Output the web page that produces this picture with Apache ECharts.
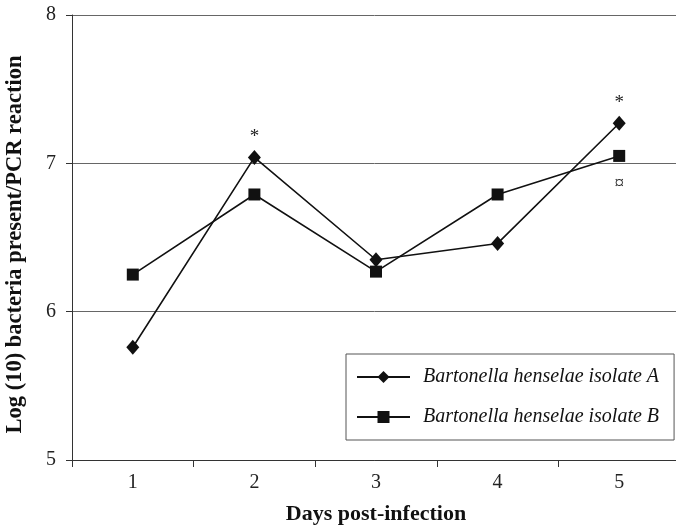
<!DOCTYPE html>
<html>
<head>
<meta charset="utf-8">
<script src="https://cdn.jsdelivr.net/npm/echarts@6/dist/echarts.min.js"></script>
<style>
    html, body { margin: 0; padding: 0; background: #fff; }
    #chartBox { width: 676px; height: 526px; }
</style>
</head>
<body>
<div id="chartBox"></div>
<script>
var days = ['1', '2', '3', '4', '5'];
var isolateA = [5.76, 7.04, 6.35, 6.46, 7.27];
var isolateB = [6.25, 6.79, 6.27, 6.79, 7.05];
var marksA = ['', '*', '', '', '*'];   // significance marks above A
var marksB = ['', '', '', '', '¤'];    // marks below B
var yTicks = [5, 6, 7, 8];

var serif = '"Liberation Serif", "DejaVu Serif", serif';

// attach the little marks as point labels
function withMarks(values, marks, pos, dist) {
    return values.map(function (v, i) {
        if (!marks[i]) return v;
        return {
            value: v,
            label: {
                show: true,
                formatter: marks[i],
                position: pos,
                distance: dist,
                color: '#222',
                fontFamily: serif,
                fontSize: 19
            }
        };
    });
}

var myChart = echarts.init(document.getElementById('chartBox'));

var option = {
    animation: false,
    grid: {
        left: 72,
        top: 15,
        bottom: 66,
        width: 608,
        outerBoundsMode: 'none',
        containLabel: false
    },
    legend: {
        orient: 'vertical',
        left: 346,
        top: 354,
        padding: [13, 15, 13, 10],
        itemGap: 20,
        itemWidth: 53,
        itemHeight: 15,
        borderColor: '#555',
        borderWidth: 1,
        textStyle: {
            fontFamily: serif,
            fontStyle: 'italic',
            fontSize: 20,
            color: '#111',
            padding: [0, 0, 0, 8]
        },
        data: ['Bartonella henselae isolate A', 'Bartonella henselae isolate B']
    },
    xAxis: {
        type: 'category',
        data: days,
        boundaryGap: true,
        name: 'Days post-infection',
        nameLocation: 'middle',
        nameGap: 43,
        nameTextStyle: {
            fontFamily: serif,
            fontWeight: 'bold',
            fontSize: 22,
            color: '#111'
        },
        axisLine: { lineStyle: { color: '#333', width: 1 } },
        axisTick: { show: true, length: 7, lineStyle: { color: '#333' } },
        axisLabel: {
            margin: 13,
            fontFamily: serif,
            fontSize: 20,
            color: '#222'
        },
        splitLine: { show: false }
    },
    yAxis: {
        type: 'value',
        min: yTicks[0],
        max: yTicks[yTicks.length - 1],
        interval: 1,
        name: 'Log (10) bacteria present/PCR reaction',
        nameLocation: 'middle',
        nameGap: 45,
        nameTextStyle: {
            fontFamily: serif,
            fontWeight: 'bold',
            fontSize: 22.5,
            color: '#111',
            padding: [0, 14, 0, 0]
        },
        axisLine: { show: true, lineStyle: { color: '#333', width: 1 } },
        axisTick: { show: true, length: 6, lineStyle: { color: '#333' } },
        axisLabel: {
            margin: 16,
            fontFamily: serif,
            fontSize: 20,
            color: '#222'
        },
        splitLine: { show: true, lineStyle: { color: '#666', width: 1 } }
    },
    series: [
        {
            name: 'Bartonella henselae isolate A',
            type: 'line',
            data: withMarks(isolateA, marksA, 'top', 3),
            symbol: 'diamond',
            symbolSize: [13, 15],
            lineStyle: { color: '#111', width: 1.6 },
            itemStyle: { color: '#111' },
            z: 3
        },
        {
            name: 'Bartonella henselae isolate B',
            type: 'line',
            data: withMarks(isolateB, marksB, 'bottom', 13),
            symbol: 'rect',
            symbolSize: 12,
            lineStyle: { color: '#111', width: 1.6 },
            itemStyle: { color: '#111' },
            z: 3
        }
    ]
};

myChart.setOption(option);
</script>
</body>
</html>
